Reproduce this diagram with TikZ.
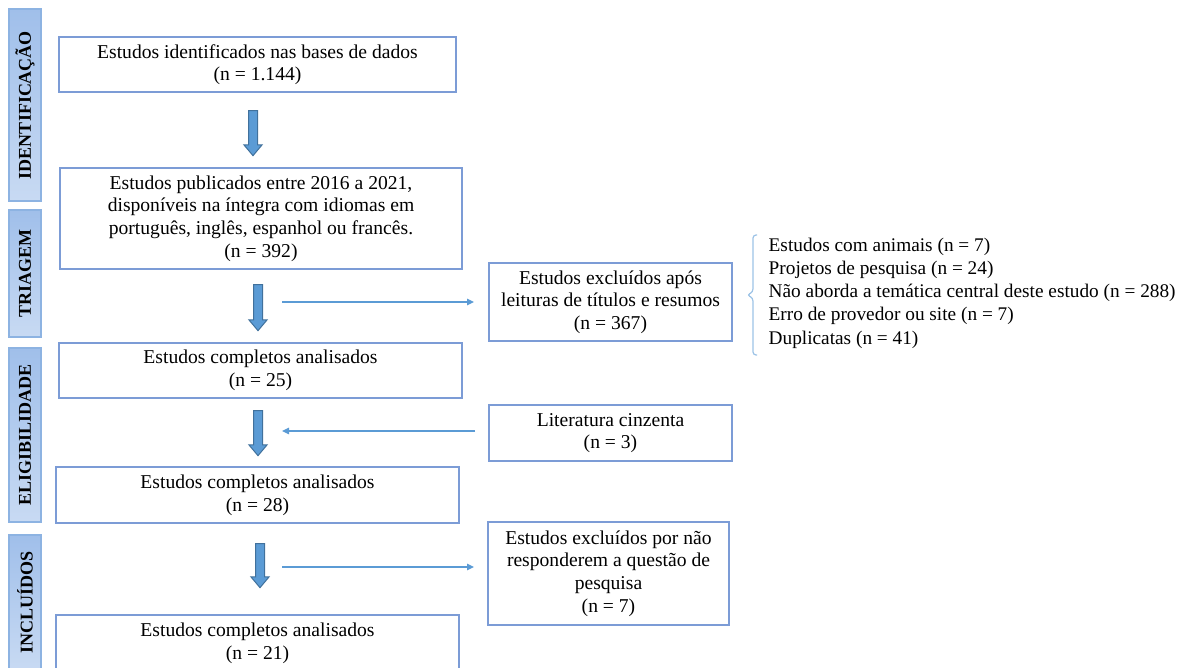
\documentclass[tikz,border=0pt]{standalone}
\usepackage{fontspec}
\setmainfont{Liberation Serif}
\usetikzlibrary{shapes.arrows,arrows.meta}

\definecolor{boxline}{RGB}{124,156,214}
\definecolor{arrowfill}{RGB}{91,155,213}
\definecolor{arrowedge}{RGB}{65,113,156}
\definecolor{bardark}{RGB}{160,191,234}
\definecolor{barlight}{RGB}{200,218,243}
\definecolor{barline}{RGB}{141,179,226}
\definecolor{bracecol}{RGB}{157,195,230}

\tikzset{
	box/.style={draw=boxline, line width=0.7pt, align=center, inner sep=0pt,
		font=\fontsize{9.8}{11.3}\selectfont},
	phase/.style={draw=barline, line width=0.6pt, rotate=90, inner sep=0pt,
		top color=bardark, bottom color=barlight, minimum height=16pt,
		font=\bfseries\fontsize{9}{10}\selectfont},
	bigarrow/.style={single arrow, draw=arrowedge, fill=arrowfill, rotate=-90,
		line width=0.5pt, minimum width=8.5pt, single arrow head extend=2.25pt,
		single arrow tip angle=80, single arrow head indent=0pt,
		inner xsep=0pt, inner ysep=2pt},
	thinarrow/.style={draw=arrowfill, line width=0.6pt,
		-{Triangle[length=3.5pt,width=3.2pt]}},
	bracket/.style={draw=bracecol, line width=0.6pt, rounded corners=1.5pt}
}

\begin{document}
\begin{tikzpicture}[x=0.5pt, y=-0.5pt]

	\useasboundingbox (0,0) rectangle (1185,668);

	\node[phase, minimum width=96pt]   (ident) at (25, 105)   {IDENTIFICAÇÃO};
	\node[phase, minimum width=63.5pt] (triag) at (25, 273.5) {TRIAGEM};
	\node[phase, minimum width=87pt]   (eleg)  at (25, 435)   {ELIGIBILIDADE};
	\node[phase, minimum width=67.5pt] (incl)  at (25, 602.5) {INCLUÍDOS};

	\node[box, minimum width=198.5pt, minimum height=27.5pt] (ident1) at (257.5, 64.5)
		{Estudos identificados nas bases de dados\\(n = 1.144)};
	\node[box, minimum width=201pt, minimum height=50.5pt] (triag1) at (261, 218.5)
		{Estudos publicados entre 2016 a 2021,\\disponíveis na íntegra com idiomas em\\português, inglês, espanhol ou francês.\\(n = 392)};
	\node[box, minimum width=201.5pt, minimum height=27.5pt] (eleg1) at (260.5, 370.5)
		{Estudos completos analisados\\(n = 25)};
	\node[box, minimum width=201.5pt, minimum height=28pt] (eleg2) at (257.5, 495)
		{Estudos completos analisados\\(n = 28)};
	\node[box, minimum width=201.5pt, minimum height=28.5pt] (incl1) at (257.5, 643.5)
		{Estudos completos analisados\\(n = 21)};

	\node[box, minimum width=121.5pt, minimum height=39pt] (excl1) at (610.5, 302)
		{Estudos excluídos após\\leituras de títulos e resumos\\(n = 367)};
	\node[box, minimum width=121.5pt, minimum height=28pt] (cinza) at (610.5, 433)
		{Literatura cinzenta\\(n = 3)};
	\node[box, minimum width=120.5pt, minimum height=51.5pt] (excl2) at (608.5, 573.5)
		{Estudos excluídos por não\\responderem a questão de\\pesquisa\\(n = 7)};

	\node[box, draw=none, align=left, anchor=west,
		font=\fontsize{9.65}{11.6}\selectfont] (motivos) at (768, 293)
		{Estudos com animais (n = 7)\\Projetos de pesquisa (n = 24)\\Não aborda a temática central deste estudo (n = 288)\\Erro de provedor ou site (n = 7)\\Duplicatas (n = 41)};

	\node[bigarrow, minimum height=22.5pt] (seta1) at (253, 130.5) {};
	\node[bigarrow, minimum height=23pt]   (seta2) at (258, 305)   {};
	\node[bigarrow, minimum height=22.5pt] (seta3) at (258, 430.5) {};
	\node[bigarrow, minimum height=22pt]   (seta4) at (260, 563)   {};

	\coordinate (t1a) at (282, 302);
	\coordinate (t1b) at (474, 302);
	\coordinate (t2a) at (475, 431);
	\coordinate (t2b) at (282, 431);
	\coordinate (t3a) at (282, 567);
	\coordinate (t3b) at (474, 567);
	\draw[thinarrow] (t1a) -- (t1b);
	\draw[thinarrow] (t2a) -- (t2b);
	\draw[thinarrow] (t3a) -- (t3b);

	\draw[bracket] (757,235) -| (753,292) -- (747,295) -- (753,298) |- (757,355);

\end{tikzpicture}
\end{document}
